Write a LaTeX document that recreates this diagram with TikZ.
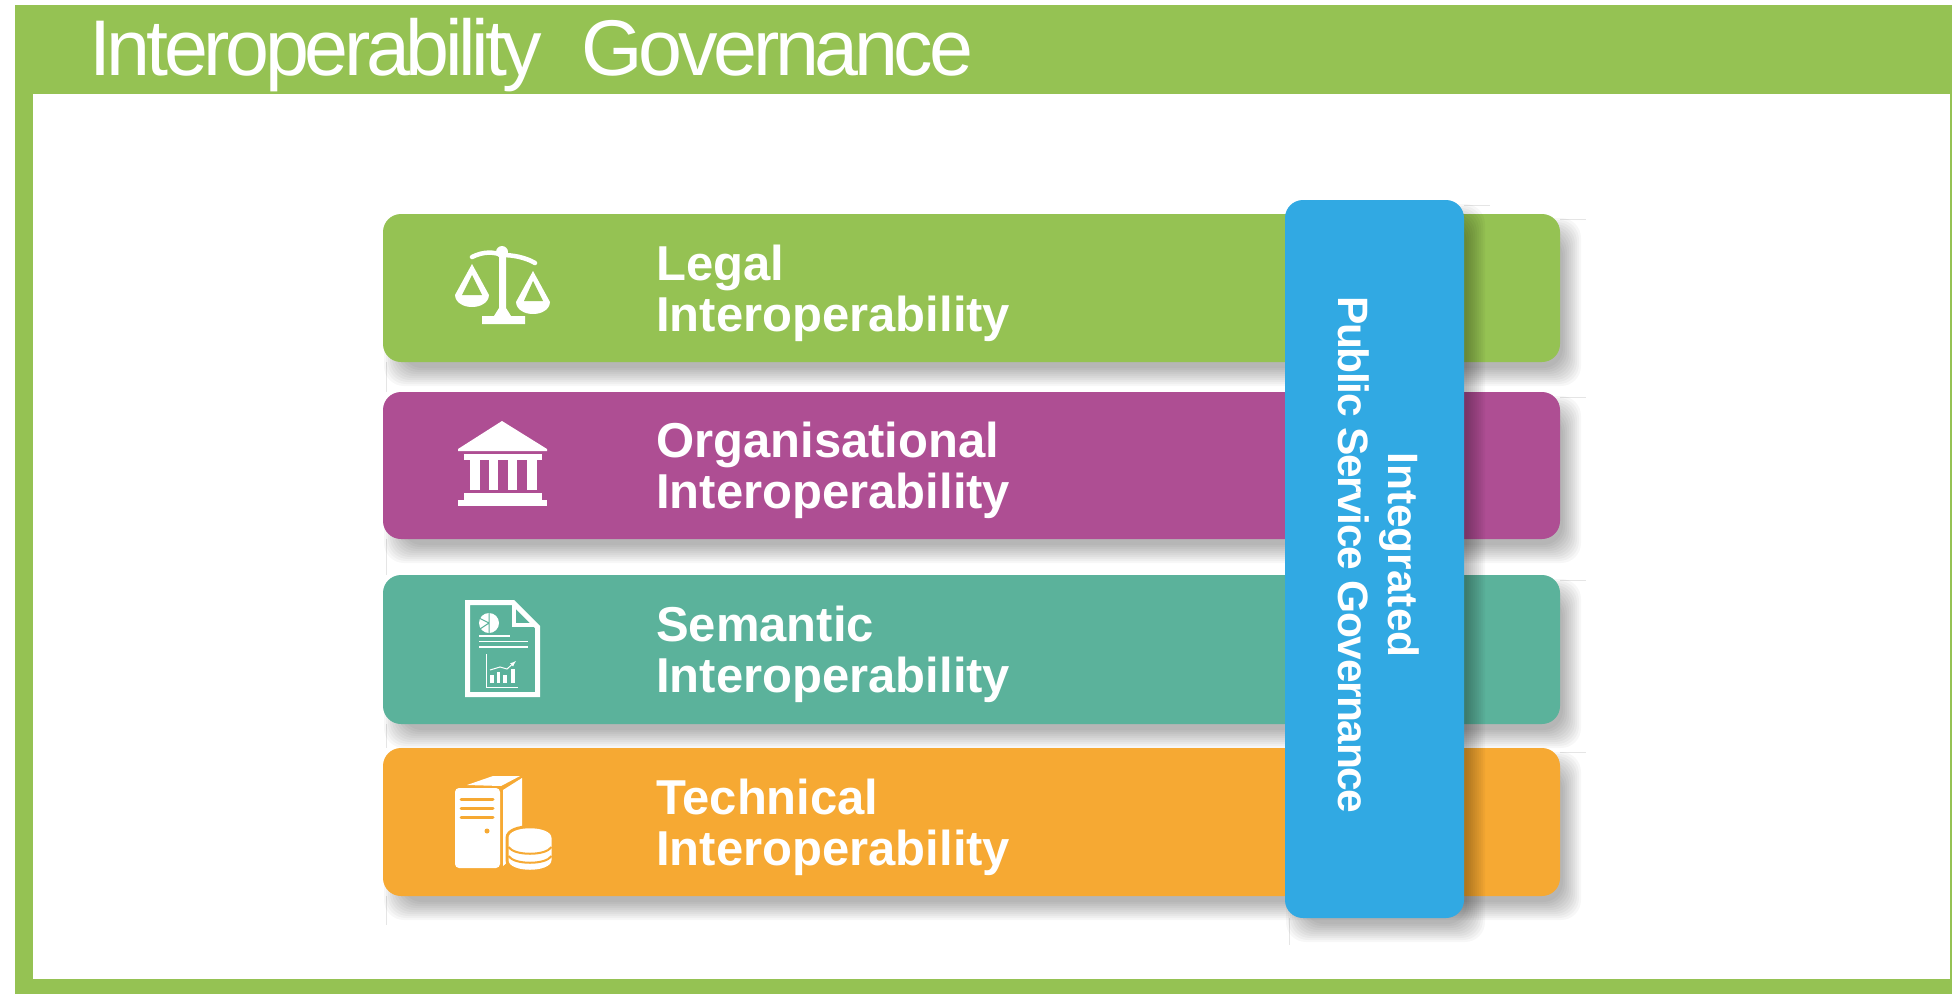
\documentclass[tikz,border=0pt]{standalone}
\usepackage{fontspec}
\setmainfont{Liberation Sans}
\definecolor{frameGreen}{HTML}{95C253}
\definecolor{legalGreen}{HTML}{95C253}
\definecolor{orgPurple}{HTML}{AE4E93}
\definecolor{semTeal}{HTML}{5BB29B}
\definecolor{techOrange}{HTML}{F6A933}
\definecolor{govBlue}{HTML}{31A9E3}
\tikzset{
  layerbar/.style={fill=#1,rounded corners=18,minimum width=1177pt,inner sep=0pt,outer sep=0pt},
  layertext/.style={anchor=west,align=left,text=white,inner sep=0pt,font=\fontsize{49}{51}\selectfont\bfseries},
  hairline/.style={draw=black!10,line width=0.8pt},
  icon/.style={fill=white,draw=none}
}
\newcommand{\softshadow}[4]{%
  \foreach \k in {0,...,9}
    \fill[black,opacity=.033,rounded corners=20] (#1+11-10+\k*2,#2+14-10+\k*2) rectangle (#3+11+10-\k*2,#4+14+10-\k*2);
}
\begin{document}
\begin{tikzpicture}[x=1pt,y=-1pt]
\useasboundingbox (0,0) rectangle (1952,994);
\fill[white] (0,0) rectangle (1952,994);
\fill[frameGreen] (15,5) rectangle (1952,994);
\fill[white] (33,94) rectangle (1950,979);
\node[anchor=base west,text=white,inner sep=0pt,font=\fontsize{79}{79}\selectfont\addfontfeature{LetterSpace=-5.5}] (title) at (89,75) {Interoperability\hspace{0.28em} Governance};
% faint guide lines
\draw[hairline] (386,362)--(386,392) (386,539)--(386,575) (386,724)--(386,748) (386,896)--(386,925);
\draw[hairline] (1560,219)--(1586,219) (1560,397)--(1586,397) (1560,580)--(1586,580) (1560,752)--(1586,752);
\draw[hairline] (1464,205)--(1490,205) (1289,918)--(1289,945);
% layers
\foreach \nm/\col/\ya/\yb/\txt in {Legal/legalGreen/214/362/{Legal\\Interoperability},
    Org/orgPurple/392/539/{Organisational\\Interoperability},
    Sem/semTeal/575/724/{Semantic\\Interoperability},
    Tech/techOrange/748/896/{Technical\\Interoperability}}{
  \softshadow{383}{\ya}{1560}{\yb}
  \node[layerbar=\col,minimum height={(\yb-\ya)*1pt}] (bar\nm) at (971.5,{(\ya+\yb)/2}) {};
  \node[layertext] (txt\nm) at (656,{(\ya+\yb)/2+5}) {\txt};
}
% scales
\draw[white,line width=4.5pt,line cap=round] (472,257) .. controls (484,251) and (494,252) .. (502,255) .. controls (512,255) and (525,257) .. (535,263);
\fill[icon] (502,252) circle (6);
\fill[icon] (499,254)--(506,254)--(506,308)--(511,316)--(525,316)--(525,324)--(482,324)--(482,316)--(494,316)--(499,308)--cycle;
\fill[icon] (472,264)--(489,295) .. controls (488,311) and (456,311) .. (455,295)--cycle;
\fill[legalGreen] (472,275)--(482,295)--(462,295)--cycle;
\fill[icon] (533,271)--(550,302) .. controls (549,318) and (517,318) .. (516,302)--cycle;
\fill[legalGreen] (533,281)--(543,301)--(524,301)--cycle;
% temple
\fill[icon] (502,421)--(547,449)--(547,451)--(458,451)--(458,449)--cycle;
\fill[icon] (464,454) rectangle (542,460);
\foreach \cx in {470,488.5,507.5,527}
  \fill[icon] (\cx,460) rectangle (\cx+9.5,490);
\fill[icon] (464,493) rectangle (542,500);
\fill[icon] (458,500) rectangle (547,506);
% document
\draw[white,line width=5pt] (467.5,602.5)--(513,602.5)--(537.5,627)--(537.5,694.5)--(467.5,694.5)--cycle;
\draw[white,line width=3.5pt] (514,602)--(514,625)--(537,625);
\fill[icon] (489,623) circle (10);
\draw[semTeal,line width=1pt] (489,613)--(489,633) (489,623)--(479,618) (489,623)--(480,629);
\draw[white,line width=1.8pt] (479,636)--(510,636) (479,641.5)--(528,641.5) (479,647)--(528,647);
\draw[white,line width=1pt] (486,654)--(486,687)--(518,687);
\foreach \bx/\by in {492/675,498.5/672,505/675,513/669}
  \fill[icon] (\bx-1.8,\by) rectangle (\bx+1.8,683);
\draw[white,line width=1pt,-latex] (490,670)--(500,667)--(507,669)--(516,661);
% server and disks
\fill[icon] (467,785)--(493,776)--(520,776)--(501,786)--cycle;
\fill[icon] (503,790)--(522,778)--(522,850)--(503,866)--cycle;
\fill[icon,rounded corners=4] (455,788) rectangle (500,868);
\draw[techOrange,line width=3pt,line cap=round] (461,799)--(493,799) (461,808)--(493,808) (461,817)--(493,817);
\fill[techOrange] (487,831) circle (2.5);
\path[draw=techOrange,line width=6pt,postaction={fill=white}] (508.5,838) .. controls (508.5,825) and (551.5,825) .. (551.5,838)--(551.5,860) .. controls (551.5,873) and (508.5,873) .. (508.5,860)--cycle;
\draw[techOrange,line width=2pt] (508.5,847) .. controls (514,856) and (546,856) .. (551.5,847);
\draw[techOrange,line width=2pt] (508.5,856) .. controls (514,865) and (546,865) .. (551.5,856);
% governance bar
\softshadow{1285}{200}{1464}{918}
\node[fill=govBlue,rounded corners=18,minimum width=179pt,minimum height=718pt,inner sep=0pt,outer sep=0pt] (barGov) at (1374.5,559) {};
\node[rotate=-90,align=center,text=white,inner sep=0pt,font=\fontsize{42.5}{50}\selectfont\bfseries] (txtGov) at (1379,555) {Integrated\\\addfontfeature{LetterSpace=-3.3}Public Service Governance};
\end{tikzpicture}
\end{document}
